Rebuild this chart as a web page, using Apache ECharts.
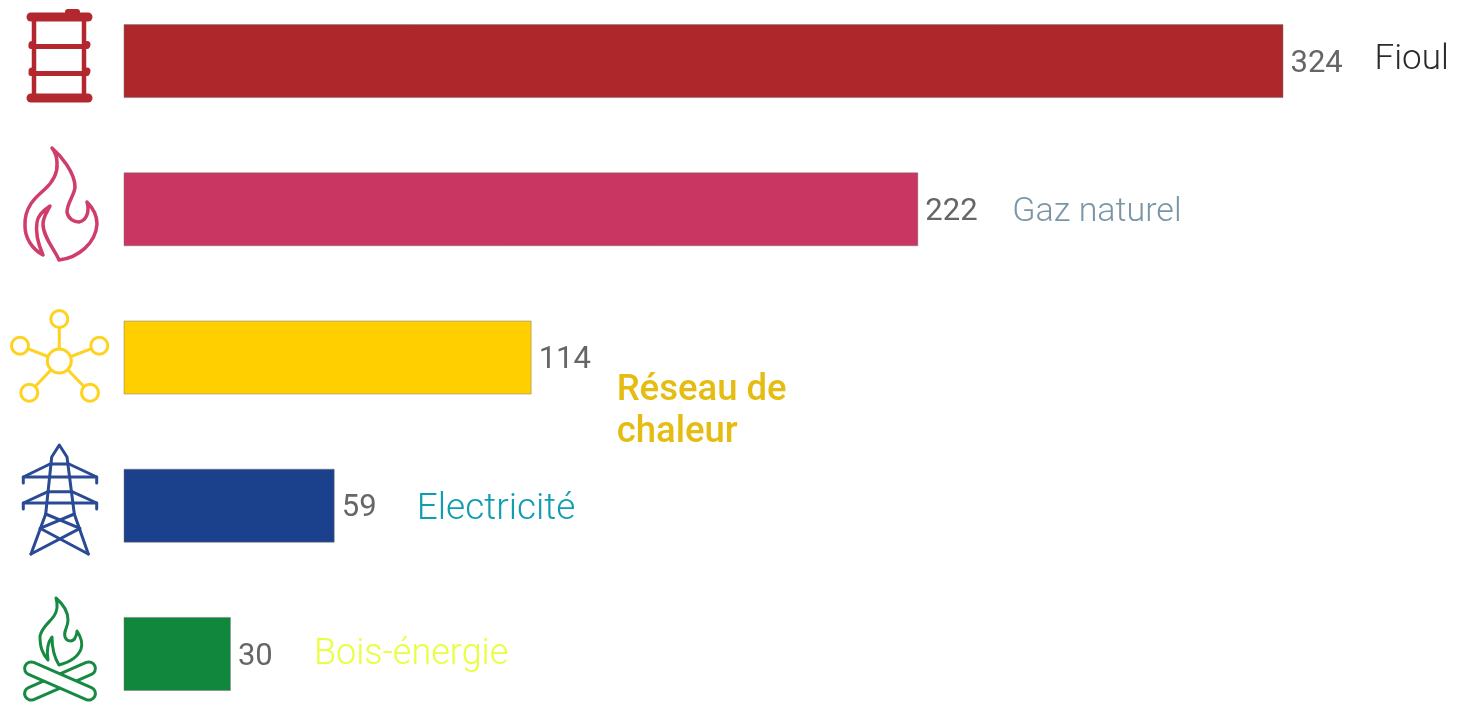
<!DOCTYPE html>
<html>
<head>
<meta charset="utf-8">
<style>
  html, body { margin: 0; padding: 0; background: #fff; }
  #chart { width: 1459px; height: 704px; }
</style>
<script src="https://cdn.jsdelivr.net/npm/echarts@6/dist/echarts.min.js"></script>
</head>
<body>
<div id="chart"></div>
<script>
var categories = ['Fioul', 'Gaz naturel', 'Réseau de\nchaleur', 'Electricité', 'Bois-énergie'];
var values = [324, 222, 114, 59, 30];
var barColors = ['#ae272b', '#c93661', '#ffcf00', '#1c418c', '#11863d'];
var nameColors = ['#2b2b2b', '#7a95a6', '#e5bd12', '#0f9db0', '#e9ff3c'];
// name label shift from the end of the bar, and its size
var nameShifts = [[91, -1], [94, 3], [85, 54], [82, 4], [83, 1]];
var nameSizes = [35, 34, 36.5, 37, 36];

var myChart = echarts.init(document.getElementById('chart'), null, { renderer: 'canvas' });

// the two flame outlines
echarts.graphic.registerShape('bigFlame', echarts.graphic.extendPath('M52 148 C60 155 75 172 75 187 C75 194 67 203 67 212 C68 219 74 222 79 222 C86 221 90 212 87 202 C93 208 97 216 97 224 C96 243 78 258 59 260 C55 250 43 237 43 224 C43 217 47 212 50 206 C44 210 38 215 37 222 C35 234 39 246 43 255 C32 249 25 238 25 226 C24 207 36 197 44 190 C53 182 58 174 57 163 C57 158 55 152 52 148 Z', {}));
echarts.graphic.registerShape('smallFlame', echarts.graphic.extendPath('M56 598 C63 604 68 612 68 620 C68 628 63 631 65 637 C67 642 73 642 75 638 C77 635 77 632 77 631 C81 637 83 643 81 649 C78 657 70 662 59 665 C54 657 52 648 52 637 C48 642 46 648 48 660 C42 653 40 647 40 636 C42 627 50 622 54 616 C58 610 58 605 56 598 Z', {}));

function line(pts, color, width) {
  return {
    type: 'polyline',
    shape: { points: pts },
    style: { fill: null, stroke: color, lineWidth: width, lineCap: 'round', lineJoin: 'round' }
  };
}
function ring(cx, cy, r, color, width) {
  return {
    type: 'circle',
    shape: { cx: cx, cy: cy, r: r },
    style: { fill: '#fff', stroke: color, lineWidth: width }
  };
}
function dot(cx, cy, r, color) {
  return {
    type: 'circle',
    shape: { cx: cx, cy: cy, r: r },
    style: { fill: color }
  };
}
function outline(name, color, width) {
  return {
    type: name,
    style: { fill: null, stroke: color, lineWidth: width, lineJoin: 'round' }
  };
}
function log(cx, cy, angle, color) {
  return {
    type: 'rect',
    x: cx, y: cy, rotation: angle,
    shape: { x: -38, y: -6.5, width: 76, height: 13, r: 6.5 },
    style: { fill: '#fff', stroke: color, lineWidth: 3 }
  };
}

// icons on the left
var red = '#b2282e', pink = '#cf3d6a', yellow = '#ffd21f', blue = '#2a4a94', green = '#178a42';
var icons = [
  line([[34, 17], [34, 98]], red, 4.5),
  line([[84, 17], [84, 98]], red, 4.5),
  line([[31, 17], [88, 17]], red, 9),
  line([[31, 98], [88, 98]], red, 9),
  line([[68, 12], [77, 12]], red, 6),
  line([[31, 46.5], [87, 46.5]], red, 5),
  line([[31, 73.5], [87, 73.5]], red, 5),
  dot(32, 44.5, 3.5, red), dot(87, 44.5, 3.5, red),
  dot(32, 71, 3.5, red), dot(87, 71, 3.5, red),

  outline('bigFlame', pink, 3.5),

  line([[59.3, 361], [59.3, 319]], yellow, 3),
  line([[59.3, 361], [20, 345.7]], yellow, 3),
  line([[59.3, 361], [99.3, 345.7]], yellow, 3),
  line([[59.3, 361], [29.3, 392.7]], yellow, 3),
  line([[59.3, 361], [90, 392.7]], yellow, 3),
  ring(59.3, 361, 12, yellow, 3),
  ring(59.3, 319, 8.5, yellow, 3),
  ring(20, 345.7, 8.5, yellow, 3),
  ring(99.3, 345.7, 8.5, yellow, 3),
  ring(29.3, 392.7, 8.5, yellow, 3),
  ring(90, 392.7, 8.5, yellow, 3),

  line([[31, 554], [45.7, 514], [51.7, 457], [59.3, 445], [67, 457], [74.3, 514], [88.3, 554]], blue, 3),
  line([[23.3, 483], [23.3, 477], [96.7, 477], [96.7, 483]], blue, 3),
  line([[23.3, 477], [50, 464], [69, 464], [96.7, 477]], blue, 3),
  line([[23.3, 509], [23.3, 503], [96.7, 503], [96.7, 509]], blue, 3),
  line([[23.3, 503], [48, 491.7], [72, 491.7], [96.7, 503]], blue, 3),
  line([[45.7, 514], [80, 528.3], [31, 554]], blue, 3),
  line([[74.3, 514], [40, 528.3], [88.3, 554]], blue, 3),

  log(60, 681, 0.41, green),
  log(60, 681, -0.41, green),
  outline('smallFlame', green, 3)
];

var option = {
  animation: false,
  backgroundColor: '#fff',
  grid: { outerBoundsMode: 'none', left: 123.5, top: -13, width: 1160, height: 741 },
  xAxis: { type: 'value', min: 0, max: 324, show: false },
  yAxis: { type: 'category', inverse: true, data: categories, show: false },
  series: [
    {
      type: 'bar',
      barWidth: 74,
      barGap: '-100%',
      data: values.map(function (v, i) {
        return {
          value: v,
          itemStyle: { color: barColors[i], borderColor: 'rgba(110,110,110,0.45)', borderWidth: 1 }
        };
      }),
      label: {
        show: true,
        position: 'right',
        distance: 7,
        offset: [0, 3],
        fontFamily: 'Roboto',
        fontWeight: 400,
        fontSize: 31,
        color: '#666666'
      }
    },
    {
      // invisible bars, only carry the category names
      type: 'bar',
      barWidth: 74,
      silent: true,
      data: values.map(function (v, i) {
        return {
          value: v,
          itemStyle: { color: 'transparent' },
          label: {
            show: true,
            position: 'right',
            distance: 0,
            offset: nameShifts[i],
            formatter: categories[i],
            fontFamily: 'Roboto',
            fontWeight: i === 2 ? 500 : 300,
            fontSize: nameSizes[i],
            lineHeight: 42,
            align: 'left',
            color: nameColors[i]
          }
        };
      })
    }
  ],
  graphic: icons
};
myChart.setOption(option);
</script>
</body>
</html>
